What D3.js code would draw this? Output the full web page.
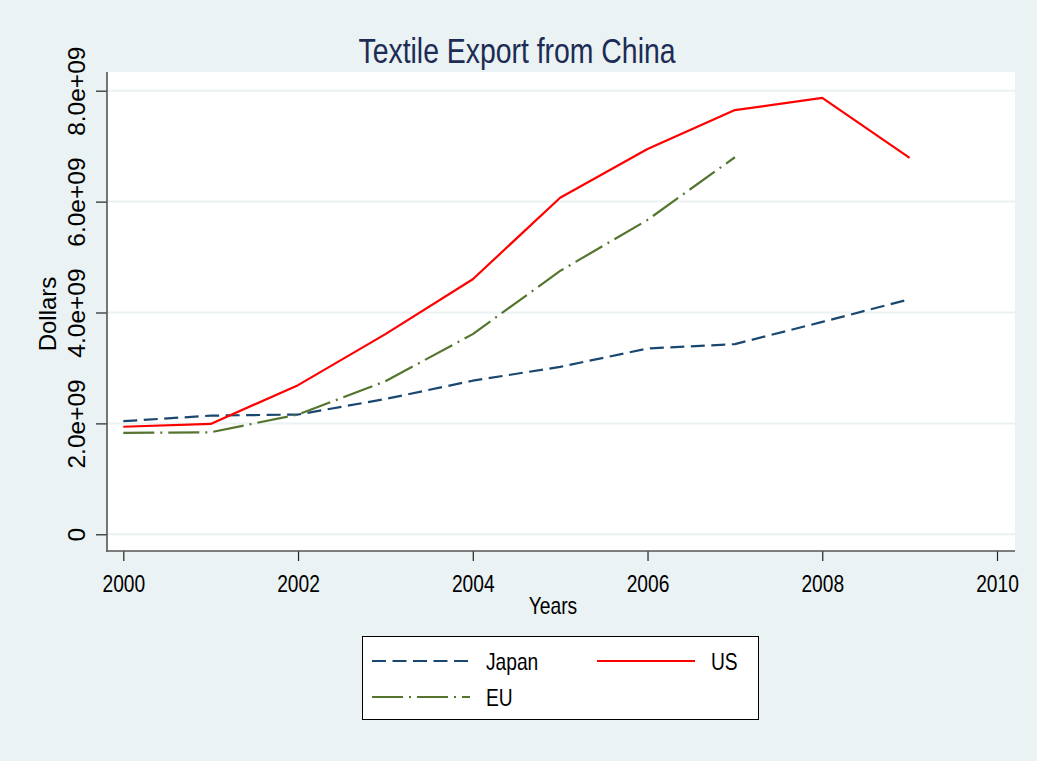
<!DOCTYPE html>
<html>
<head>
<meta charset="utf-8">
<script src="https://cdn.jsdelivr.net/npm/d3@7"></script>
<style>
  html, body { margin: 0; padding: 0; background: #eaf2f3; }
  svg { display: block; }
  text { font-family: "Liberation Sans", Arial, sans-serif; fill: #000; }
</style>
</head>
<body>
<svg id="chart" width="1037" height="761"></svg>
<script>
// Textile exports from China by destination, in dollars
const years = [2000, 2001, 2002, 2003, 2004, 2005, 2006, 2007, 2008, 2009];
const japan = [2.04e9, 2.14e9, 2.16e9, 2.44e9, 2.77e9, 3.02e9, 3.35e9, 3.43e9, 3.83e9, 4.24e9];
const us    = [1.94e9, 1.99e9, 2.69e9, 3.61e9, 4.60e9, 6.07e9, 6.95e9, 7.65e9, 7.87e9, 6.79e9];
const eu    = [1.83e9, 1.84e9, 2.16e9, 2.76e9, 3.61e9, 4.75e9, 5.67e9, 6.80e9];
const xTicks = [2000, 2002, 2004, 2006, 2008, 2010];
const yTicks = [0, 2e9, 4e9, 6e9, 8e9];
const yTickLabels = ["0", "2.0e+09", "4.0e+09", "6.0e+09", "8.0e+09"];

const series = [
  { name: "Japan", values: japan, color: "#1a476f", dash: "14,6.5" },
  { name: "US",    values: us,    color: "#ff0000", dash: null },
  { name: "EU",    values: eu,    color: "#55752f", dash: "31,6,2,6" }
];

const svg = d3.select("#chart");
const W = 1037, H = 761;
const SX = 0.8;          // horizontal compression of the lettering
const FS = 24;           // label font size

// plot region box
const plot = { left: 107, right: 1015, top: 72, bottom: 551 };

const x = d3.scaleLinear().domain([2000, 2010]).range([123.3, 997]);
const y = d3.scaleLinear().domain([0, 8e9]).range([534.3, 90.7]);

svg.append("rect").attr("width", W).attr("height", H).attr("fill", "#eaf2f3");
svg.append("rect")
  .attr("x", plot.left).attr("y", plot.top)
  .attr("width", plot.right - plot.left).attr("height", plot.bottom - plot.top)
  .attr("fill", "#ffffff");

// horizontal gridlines
svg.append("g").selectAll("line").data(yTicks).join("line")
  .attr("x1", plot.left).attr("x2", plot.right)
  .attr("y1", d => y(d)).attr("y2", d => y(d))
  .attr("stroke", "#eaf2f3").attr("stroke-width", 2);

// horizontal text helper: compressed lettering anchored at (px, py)
function label(px, py, str, size, anchor, color) {
  return svg.append("text")
    .attr("transform", `translate(${px},${py}) scale(${SX},1)`)
    .attr("text-anchor", anchor || "middle")
    .attr("font-size", size)
    .style("fill", color || "#000")
    .text(str);
}

// y axis
const yAxis = d3.axisLeft(y).tickValues(yTicks).tickSize(11).tickFormat((d, i) => yTickLabels[i]);
const gy = svg.append("g").attr("transform", `translate(${plot.left},0)`).call(yAxis);
gy.select(".domain").remove();
gy.selectAll(".tick line").attr("stroke", "#222").attr("stroke-width", 1.2);
gy.selectAll(".tick text")
  .attr("font-size", 24.5).attr("fill", "#000")
  .attr("text-anchor", "middle")
  .attr("x", null).attr("y", null).attr("dy", null)
  .attr("transform", "translate(-22,0) rotate(-90)");
svg.append("line")
  .attr("x1", plot.left).attr("x2", plot.left)
  .attr("y1", plot.top).attr("y2", plot.bottom + 0.8)
  .attr("stroke", "#555").attr("stroke-width", 1.6);

// x axis
const xAxis = d3.axisBottom(x).tickValues(xTicks).tickSize(10).tickFormat(d3.format("d"));
const gx = svg.append("g").attr("transform", `translate(0,${plot.bottom})`).call(xAxis);
gx.select(".domain").remove();
gx.selectAll(".tick line").attr("stroke", "#222").attr("stroke-width", 1.2);
gx.selectAll(".tick text")
  .attr("font-size", FS).attr("fill", "#000")
  .attr("y", null).attr("dy", null)
  .attr("transform", `translate(0,41) scale(${SX},1)`);
svg.append("line")
  .attr("x1", plot.left - 0.8).attr("x2", plot.right)
  .attr("y1", plot.bottom).attr("y2", plot.bottom)
  .attr("stroke", "#555").attr("stroke-width", 1.6);

// axis titles
label(553, 614, "Years", FS);
svg.append("text")
  .attr("transform", "translate(56,314) rotate(-90)")
  .attr("text-anchor", "middle").attr("font-size", FS).text("Dollars");

// chart title
label(517, 63, "Textile Export from China", 35.5, "middle", "#1c2c54");

// series lines
const line = d3.line().x(d => x(d[0])).y(d => y(d[1]));
series.forEach(s => {
  svg.append("path")
    .datum(s.values.map((v, i) => [years[i], v]))
    .attr("d", line)
    .attr("fill", "none")
    .attr("stroke", s.color)
    .attr("stroke-width", 2.2)
    .attr("stroke-linejoin", "round")
    .attr("stroke-dasharray", s.dash);
});

// legend
const lg = svg.append("g");
lg.append("rect").attr("x", 362.5).attr("y", 636.5).attr("width", 396).attr("height", 83)
  .attr("fill", "#fff").attr("stroke", "#000").attr("stroke-width", 1);
const legendPos = [
  { x: 372, y: 661 },
  { x: 597, y: 661 },
  { x: 372, y: 697 }
];
series.forEach((s, i) => {
  const p = legendPos[i];
  lg.append("line").attr("x1", p.x).attr("x2", p.x + 98).attr("y1", p.y).attr("y2", p.y)
    .attr("stroke", s.color).attr("stroke-width", 2.2).attr("stroke-dasharray", s.dash);
  label(p.x + 114, p.y + 8.5, s.name, FS, "start");
});
</script>
</body>
</html>
